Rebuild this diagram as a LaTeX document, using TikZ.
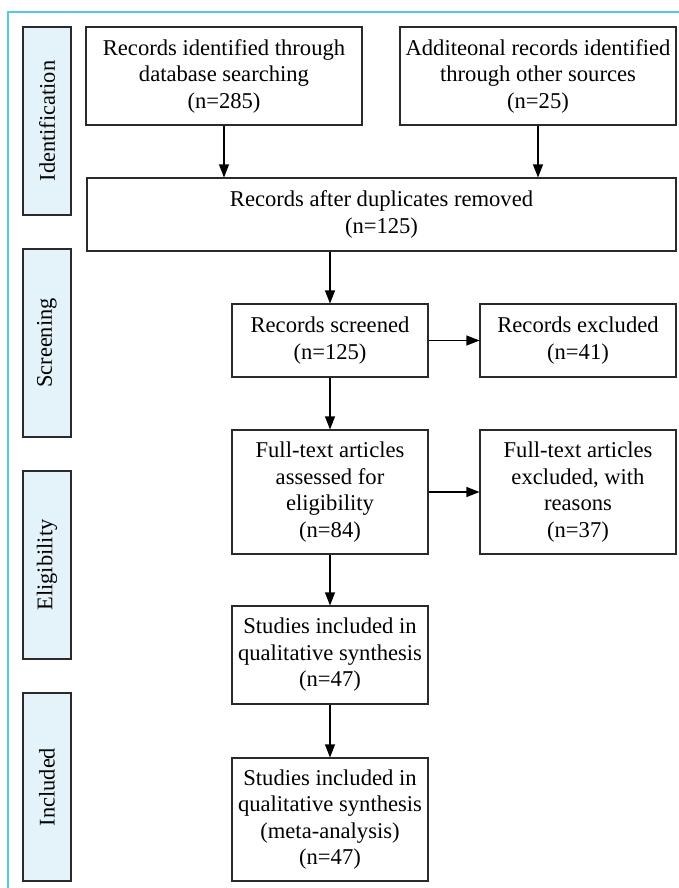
\documentclass[tikz,border=0pt]{standalone}
\usepackage{fontspec}
\setmainfont{Liberation Serif}
\usetikzlibrary{arrows.meta}
\definecolor{framecyan}{HTML}{55CBE3}
\definecolor{sidefill}{HTML}{E4F3F9}
\definecolor{edge}{HTML}{2A2A2A}
\begin{document}
\begin{tikzpicture}[x=1pt,y=-1pt,
  box/.style={draw=edge,line width=1.1pt,fill=white,inner sep=0pt,align=center,
    font=\fontsize{22.6}{26.5}\selectfont,text=black},
  side/.style={draw=edge,line width=1.1pt,fill=sidefill,inner sep=0pt,
    minimum width=48pt,minimum height=188pt},
  sidelabel/.style={rotate=90,font=\fontsize{22.4}{26}\selectfont,text=black},
  arr/.style={draw=black,line width=1.1pt,-{Triangle[length=13pt,width=10pt]}}]
\useasboundingbox (0,0) rectangle (679,888);
\fill[white] (0,0) rectangle (679,888);
\draw[framecyan,line width=1.2pt] (8,888) -- (8,12) -- (679,12);
% side boxes
\node[side] (ids) at (47,121) {};
\node[sidelabel] (idl) at (ids.center) {Identification};
\node[side] (scs) at (47,343) {};
\node[sidelabel] (scl) at (scs.center) {Screening};
\node[side] (els) at (47,565) {};
\node[sidelabel] (ell) at (els.center) {Eligibility};
\node[side] (ins) at (47,787) {};
\node[sidelabel] (inl) at (ins.center) {Included};
% main boxes
\node[box,minimum width=276pt,minimum height=98pt] (b1) at (224,76)
  {Records identified through\\database searching\\(n=285)};
\node[box,minimum width=276pt,minimum height=98pt] (b2) at (538,76)
  {Additeonal records identified\\through other sources\\(n=25)};
\node[box,minimum width=589pt,minimum height=73pt] (b3) at (381.5,214.5)
  {Records after duplicates removed\\(n=125)};
\node[box,minimum width=196pt,minimum height=73pt] (b4) at (330,340.5)
  {Records screened\\(n=125)};
\node[box,minimum width=196pt,minimum height=73pt] (b5) at (578,340.5)
  {Records excluded\\(n=41)};
\node[box,minimum width=196pt,minimum height=124pt] (b6) at (330,492)
  {Full-text articles\\assessed for\\eligibility\\(n=84)};
\node[box,minimum width=196pt,minimum height=124pt] (b7) at (578,492)
  {Full-text articles\\excluded, with\\reasons\\(n=37)};
\node[box,minimum width=196pt,minimum height=98pt] (b8) at (330,655)
  {Studies included in\\qualitative synthesis\\(n=47)};
\node[box,minimum width=196pt,minimum height=123pt] (b9) at (330,819.5)
  {Studies included in\\qualitative synthesis\\(meta-analysis)\\(n=47)};
% connectors
\draw[arr] (b1.south) -- (b1.south |- b3.north);
\draw[arr] (b2.south) -- (b2.south |- b3.north);
\draw[arr] (b4.north |- b3.south) -- (b4.north);
\draw[arr] (b4.east) -- (b5.west);
\draw[arr] (b4.south) -- (b6.north);
\draw[arr] (b6.east) -- (b7.west);
\draw[arr] (b6.south) -- (b8.north);
\draw[arr] (b8.south) -- (b9.north);
\end{tikzpicture}
\end{document}
